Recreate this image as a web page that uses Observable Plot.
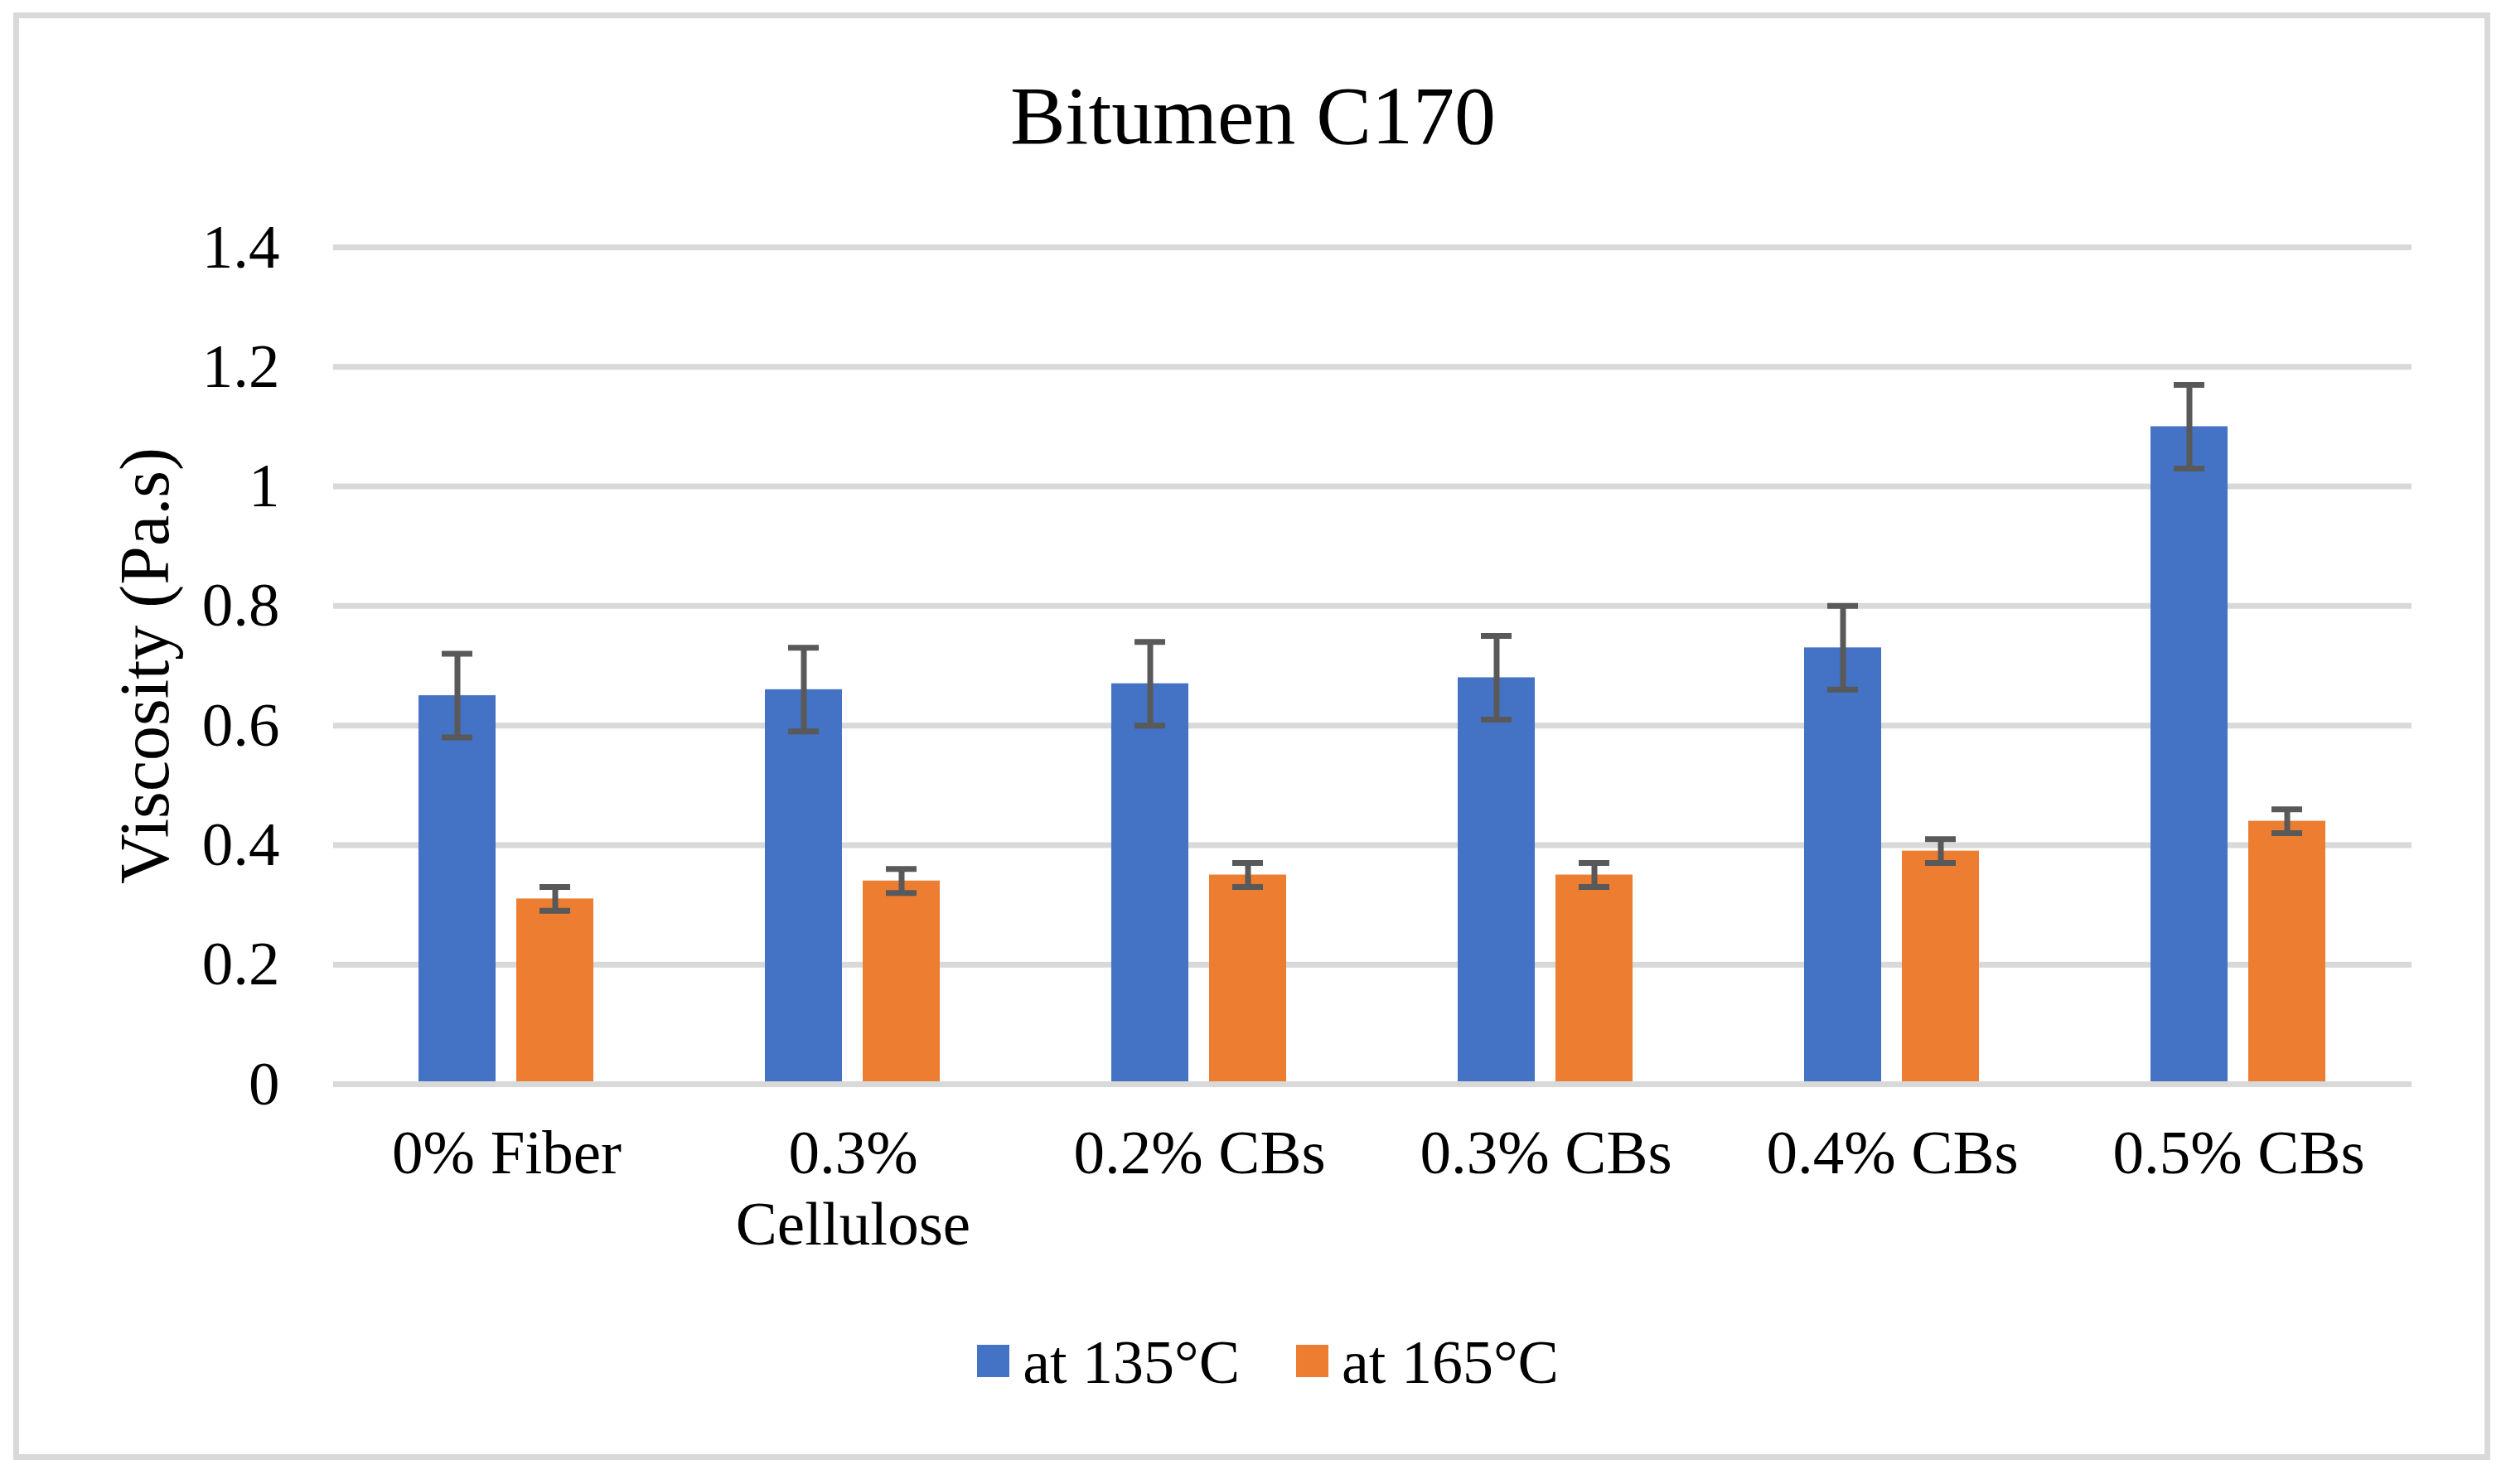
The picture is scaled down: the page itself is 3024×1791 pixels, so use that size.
<!DOCTYPE html>
<html>
<head>
<meta charset="utf-8">
<script src="https://cdn.jsdelivr.net/npm/d3@7"></script>
<script src="https://cdn.jsdelivr.net/npm/@observablehq/plot@0.6"></script>
<style>
  body { margin: 0; background: #fff; }
  #wrap { position: relative; width: 3024px; height: 1791px; background: #fff; font-family: "Liberation Serif", "Times New Roman", serif; color: #000; overflow: hidden; }
  #frame { position: absolute; left: 16px; top: 15px; width: 2989px; height: 1747px; box-sizing: border-box; border: 7px solid #d9d9d9; }
  #title { position: absolute; left: 0; top: 90px; width: 3024px; text-align: center; font-size: 100px; line-height: 1; white-space: nowrap; }
  #chart { position: absolute; left: 0; top: 230px; }
  #legend { position: absolute; left: 18px; top: 1607px; width: 3024px; text-align: center; font-size: 74px; line-height: 1; white-space: nowrap; }
  .sw { display: inline-block; width: 39px; height: 39px; vertical-align: 7px; margin-right: 16px; }
  .item { display: inline-block; }
  .item + .item { margin-left: 68px; }
</style>
</head>
<body>
<div id="wrap">
  <div id="frame"></div>
  <div id="title"></div>
  <div id="chart"></div>
  <div id="legend"></div>
</div>
<script>
const titleText = "Bitumen C170";
const yLabel = "Viscosity (Pa.s)";
const categories = ["0% Fiber", "0.3%\nCellulose", "0.2% CBs", "0.3% CBs", "0.4% CBs", "0.5% CBs"];
const temps = ["at 135°C", "at 165°C"];
const colors = ["#4472C4", "#ED7D31"];
const values135 = [0.65, 0.66, 0.67, 0.68, 0.73, 1.10];
const values165 = [0.31, 0.34, 0.35, 0.35, 0.39, 0.44];
const err135 = [0.07, 0.07, 0.07, 0.07, 0.07, 0.07];
const err165 = [0.02, 0.02, 0.02, 0.02, 0.02, 0.02];
const yTicks = [0, 0.2, 0.4, 0.6, 0.8, 1, 1.2, 1.4];

const rows = [];
categories.forEach((c, i) => {
  rows.push({cat: c, temp: temps[0], value: values135[i], err: err135[i]});
  rows.push({cat: c, temp: temps[1], value: values165[i], err: err165[i]});
});

document.getElementById("title").textContent = titleText;

const errColor = "#595959";
const chart = Plot.plot({
  width: 3024,
  height: 1310,
  marginTop: 68,
  marginBottom: 232,
  marginLeft: 401,
  marginRight: 114,
  style: {fontFamily: "Liberation Serif", fontSize: "75px", color: "#000", background: "transparent", overflow: "visible"},
  fx: {domain: categories, padding: 0, label: null},
  x: {domain: temps, paddingInner: 0.21, paddingOuter: 0.862, axis: null},
  y: {domain: [0, 1.4], label: null},
  color: {domain: temps, range: colors},
  marks: [
    Plot.ruleY(yTicks, {stroke: "#d9d9d9", strokeWidth: 7}),
    Plot.barY(rows, {fx: "cat", x: "temp", y: "value", fill: "temp"}),
    Plot.ruleY([0], {stroke: "#d9d9d9", strokeWidth: 7}),
    Plot.ruleX(rows, {fx: "cat", x: "temp", y1: d => d.value - d.err, y2: d => d.value + d.err, stroke: errColor, strokeWidth: 7}),
    Plot.tickY(rows, {fx: "cat", x: "temp", y: d => d.value + d.err, stroke: errColor, strokeWidth: 7, insetLeft: 28, insetRight: 28}),
    Plot.tickY(rows, {fx: "cat", x: "temp", y: d => d.value - d.err, stroke: errColor, strokeWidth: 7, insetLeft: 28, insetRight: 28}),
    Plot.axisY({ticks: yTicks, tickFormat: d => String(d), tickSize: 0, tickPadding: 65, label: null}),
    Plot.axisFx({anchor: "bottom", tickSize: 0, tickPadding: 46, label: null, lineHeight: 1.15}),
    Plot.text([yLabel], {fx: [categories[0]], text: d => d, frameAnchor: "left", textAnchor: "middle", rotate: -90, dx: -226, fontSize: 84})
  ]
});
document.getElementById("chart").appendChild(chart);

const legend = document.getElementById("legend");
temps.forEach((t, i) => {
  const item = document.createElement("span");
  item.className = "item";
  const sw = document.createElement("span");
  sw.className = "sw";
  sw.style.background = colors[i];
  item.appendChild(sw);
  item.appendChild(document.createTextNode(t));
  legend.appendChild(item);
});
</script>
</body>
</html>
